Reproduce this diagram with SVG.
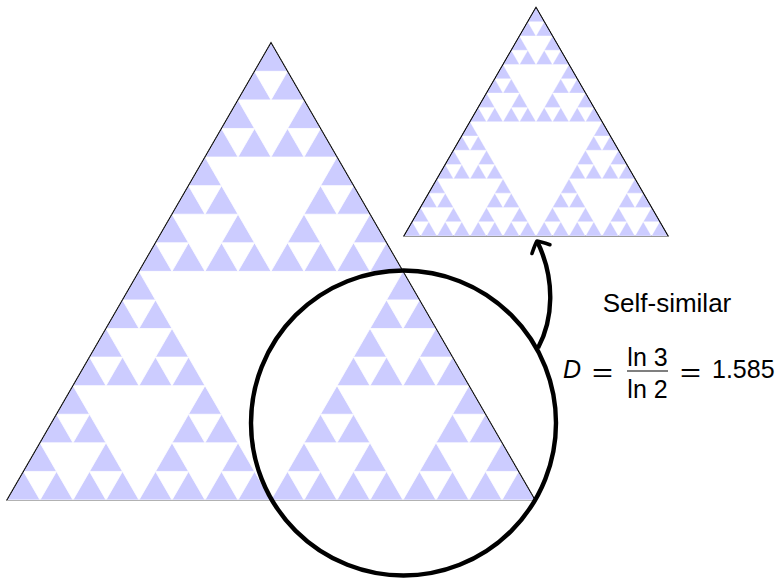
<svg xmlns="http://www.w3.org/2000/svg" xmlns:xlink="http://www.w3.org/1999/xlink" width="778" height="579" viewBox="0 0 778 579">
<style>
.tri{fill:#ccccff;stroke:#ffffff;stroke-width:0.8;stroke-linejoin:miter}
.outline{fill:none;stroke:#000000;stroke-width:1.2}
.side{fill:none;stroke:#000000;stroke-width:1}
.txt{font-family:"Liberation Sans",Arial,sans-serif;font-size:25px;fill:#000000}
.conn{fill:none;stroke:#000000;stroke-width:4.4}
</style>
<defs>
<polygon id="L0" class="tri" points="0,0 33,0 16.5,-28.5788"/>
<g id="L1"><use href="#L0"/><use href="#L0" x="33"/><use href="#L0" x="16.5" y="-28.5788"/></g>
<g id="L2"><use href="#L1"/><use href="#L1" x="66"/><use href="#L1" x="33" y="-57.1577"/></g>
<g id="L3"><use href="#L2"/><use href="#L2" x="132"/><use href="#L2" x="66" y="-114.3154"/></g>
<g id="L4"><use href="#L3"/><use href="#L3" x="264"/><use href="#L3" x="132" y="-228.6307"/></g>
<marker id="arrowhead" markerUnits="userSpaceOnUse" orient="auto" refX="0" refY="0" markerWidth="30" markerHeight="30" viewBox="-15 -15 30 30" overflow="visible">
<path d="M-9,-10 Q-2,-3 0,0 Q-2,3 -9,10" fill="none" stroke="#000000" stroke-width="3.6" stroke-linecap="round" stroke-linejoin="round"/>
</marker>
</defs>
<g id="big-triangle">
<polygon class="outline" points="7,500 535,500 271,42.74"/>
<use href="#L4" transform="translate(7,500)"/>
<polyline class="side" points="7,500 271,42.74 535,500"/>
</g>
<g id="small-triangle">
<polygon class="outline" points="404,236 668,236 536,7.37"/>
<use href="#L4" transform="translate(404,236) scale(0.5)"/>
<polyline class="side" points="404,236 536,7.37 668,236"/>
</g>
<g id="zoom-circle">
<circle cx="403.5" cy="423" r="152.5" fill="none" stroke="#000000" stroke-width="4.4"/>
</g>
<g id="connectors">
<path class="conn" d="M538,348 C553,320 556,280 537,241" marker-end="url(#arrowhead)"/>
</g>
<g id="label">
<text class="txt" x="667" y="312" text-anchor="middle" style="font-size:26px">Self-similar</text>
<text class="txt" x="563" y="378" font-style="italic">D</text>
<text class="txt" x="592" y="380.5" textLength="21" lengthAdjust="spacingAndGlyphs">=</text>
<text class="txt" x="647.5" y="366" text-anchor="middle">ln 3</text>
<line x1="627" y1="371" x2="668" y2="371" stroke="#000000" stroke-width="1.2"/>
<text class="txt" x="647.5" y="398" text-anchor="middle">ln 2</text>
<text class="txt" x="680" y="380.5" textLength="21" lengthAdjust="spacingAndGlyphs">=</text>
<text class="txt" x="712" y="378">1.585</text>
</g>
</svg>
